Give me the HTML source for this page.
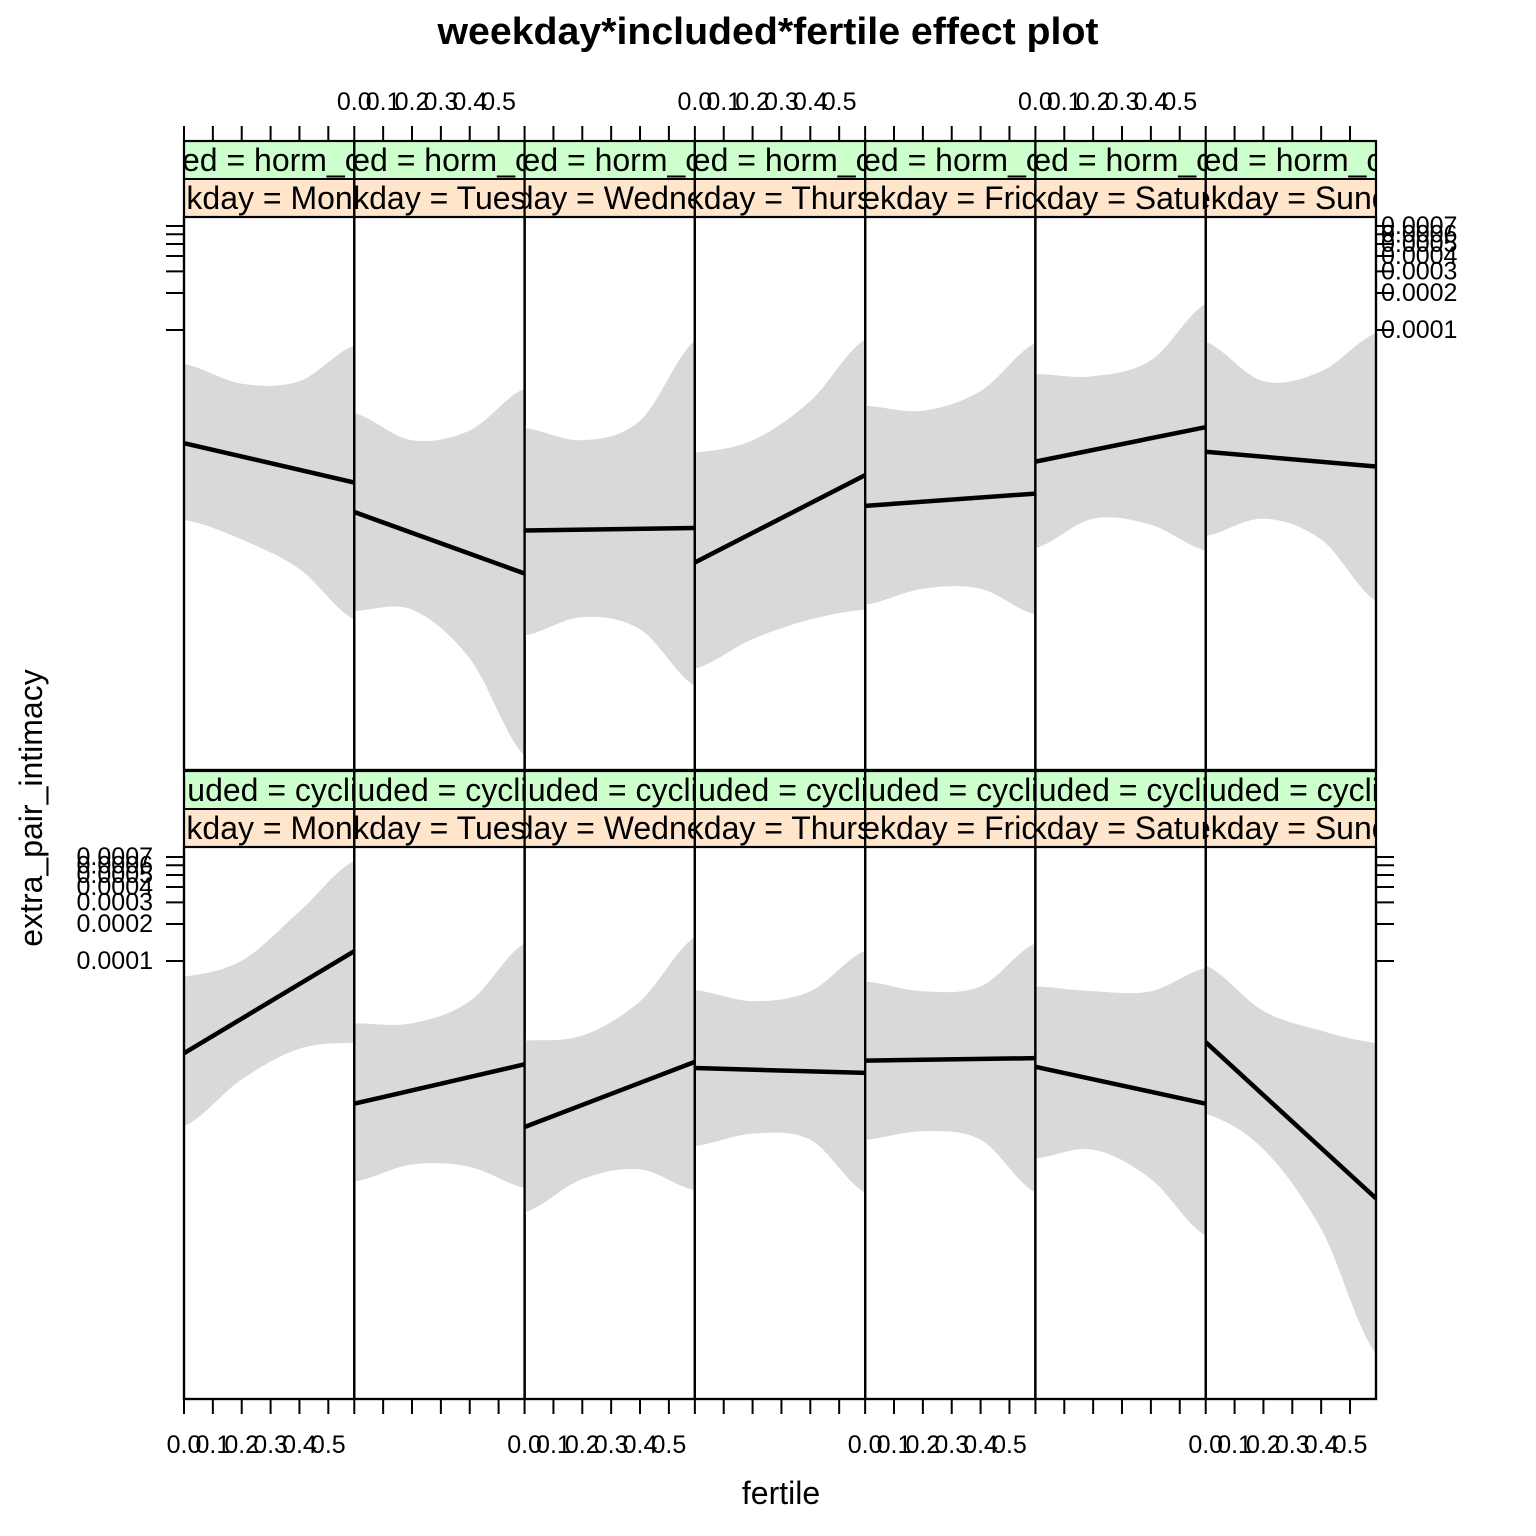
<!DOCTYPE html>
<html><head><meta charset="utf-8"><style>
html,body{margin:0;padding:0;background:#fff}
svg{display:block;font-family:"Liberation Sans",sans-serif}
</style></head><body>
<svg id="chart" width="1536" height="1536" viewBox="0 0 1536 1536" xmlns="http://www.w3.org/2000/svg">
<rect width="1536" height="1536" fill="#fff"/>
<text x="768" y="44" text-anchor="middle" font-size="38" font-weight="bold" textLength="661" lengthAdjust="spacingAndGlyphs">weekday*included*fertile effect plot</text>
<text x="781" y="1504" text-anchor="middle" font-size="32">fertile</text>
<text transform="translate(42,808) rotate(-90)" text-anchor="middle" font-size="32">extra_pair_intimacy</text>
<g id="plots"></g>
</svg>
<script>
const weekdays = ["Monday","Tuesday","Wednesday","Thursday","Friday","Saturday","Sunday"];
const includedLevels = ["horm_contra","cycling"];
const fertileGrid = [0, 0.2, 0.4, 0.59];
const fertileTicks = [0, 0.1, 0.2, 0.3, 0.4, 0.5];
const fertileTickLabels = ["0.0","0.1","0.2","0.3","0.4","0.5"];
const yTickValues = [0.0001,0.0002,0.0003,0.0004,0.0005,0.0006,0.0007];
const yTickLabels = ["0.0001","0.0002","0.0003","0.0004","0.0005","0.0006","0.0007"];
// log10 fitted values at fertile = 0 and 0.59
const fitHorm = [[-4.92,-5.24],[-5.48,-5.98],[-5.63,-5.61],[-5.89,-5.18],[-5.43,-5.33],[-5.07,-4.79],[-4.99,-5.11]];
const fitCyc = [[-4.75,-3.92],[-5.16,-4.84],[-5.35,-4.82],[-4.87,-4.91],[-4.81,-4.79],[-4.86,-5.16],[-4.66,-5.93]];
// log10 confidence bounds at fertileGrid
const upperHorm = [[-4.27,-4.43,-4.41,-4.12],[-4.67,-4.89,-4.81,-4.47],[-4.79,-4.89,-4.73,-4.08],[-4.99,-4.89,-4.57,-4.07],[-4.61,-4.65,-4.49,-4.10],[-4.35,-4.37,-4.24,-3.78],[-4.09,-4.41,-4.33,-4.02]];
const lowerHorm = [[-5.55,-5.71,-5.95,-6.36],[-6.29,-6.28,-6.68,-7.47],[-6.49,-6.34,-6.44,-6.90],[-6.76,-6.52,-6.36,-6.28],[-6.24,-6.11,-6.11,-6.32],[-5.78,-5.54,-5.59,-5.80],[-5.68,-5.54,-5.71,-6.21]];
const upperCyc = [[-4.12,-3.99,-3.59,-3.18],[-4.50,-4.50,-4.32,-3.85],[-4.64,-4.60,-4.32,-3.80],[-4.23,-4.32,-4.24,-3.91],[-4.16,-4.24,-4.20,-3.85],[-4.20,-4.24,-4.24,-4.05],[-4.03,-4.40,-4.56,-4.66]];
const lowerCyc = [[-5.35,-4.97,-4.72,-4.67],[-5.80,-5.66,-5.68,-5.85],[-6.05,-5.78,-5.70,-5.87],[-5.51,-5.41,-5.46,-5.89],[-5.46,-5.39,-5.46,-5.89],[-5.61,-5.54,-5.78,-6.24],[-5.25,-5.54,-6.19,-7.20]];

const NS="http://www.w3.org/2000/svg";
const root=document.getElementById('plots');
const X0=184, PW=(1376-184)/7, XMAX=0.59;
const rows=[{panelTop:217,panelBot:770,ref:330,strip1:141,fit:fitHorm,up:upperHorm,lo:lowerHorm,lev:includedLevels[0]},
            {panelTop:847,panelBot:1399,ref:961,strip1:771,fit:fitCyc,up:upperCyc,lo:lowerCyc,lev:includedLevels[1]}];
const PPD=123;
function el(t,a,p){const e=document.createElementNS(NS,t);for(const k in a)e.setAttribute(k,a[k]);(p||root).appendChild(e);return e;}
function xs(c,f){return X0+c*PW+f/XMAX*PW;}
function ys(r,l){return r.ref-(l+4)*PPD;}
function interp(arr,f){
  let i=0;while(i<fertileGrid.length-2&&f>fertileGrid[i+1])i++;
  const t=(f-fertileGrid[i])/(fertileGrid[i+1]-fertileGrid[i]);
  const p0=arr[Math.max(0,i-1)],p1=arr[i],p2=arr[i+1],p3=arr[Math.min(arr.length-1,i+2)];
  return 0.5*((2*p1)+(-p0+p2)*t+(2*p0-5*p1+4*p2-p3)*t*t+(-p0+3*p1-3*p2+p3)*t*t*t);
}
const defs=el('defs',{});
rows.forEach((r,ri)=>{
  weekdays.forEach((d,c)=>{
    const x=X0+c*PW;
    const cp=el('clipPath',{id:'cp'+ri+'_'+c},defs);
    el('rect',{x:x,y:r.strip1,width:PW,height:r.panelBot-r.strip1},cp);
    const g=el('g',{'clip-path':'url(#cp'+ri+'_'+c+')'});
    
    
    const N=40;let up=[],lo=[];
    for(let k=0;k<=N;k++){const f=XMAX*k/N;up.push(xs(c,f).toFixed(1)+','+ys(r,interp(r.up[c],f)).toFixed(1));lo.push(xs(c,f).toFixed(1)+','+ys(r,interp(r.lo[c],f)).toFixed(1));}
    const band=el('polygon',{points:up.concat(lo.reverse()).join(' '),fill:'#d9d9d9',stroke:'#fff','stroke-width':1.5},g);
    
    
    const ln=el('line',{x1:xs(c,0),y1:ys(r,r.fit[c][0]),x2:xs(c,XMAX),y2:ys(r,r.fit[c][1]),stroke:'#000','stroke-width':4.5},g);
    
    
    const s1=el('rect',{x:x,y:r.strip1,width:PW,height:38,fill:'#ccffcc',stroke:'#000','stroke-width':2},g);
    
    
    const t1=el('text',{x:x+82,y:r.strip1+30,'text-anchor':'middle','font-size':32},g);t1.textContent='included = '+r.lev;
    
    
    const s2=el('rect',{x:x,y:r.strip1+38,width:PW,height:38,fill:'#ffe5cc',stroke:'#000','stroke-width':2},g);
    
    
    const t2=el('text',{x:x+82,y:r.strip1+68,'text-anchor':'middle','font-size':32},g);t2.textContent='weekday = '+d;
    
    
    const bd=el('rect',{x:x,y:r.panelTop,width:PW,height:r.panelBot-r.panelTop,fill:'none',stroke:'#000','stroke-width':2.2});
    
    
    el('rect',{x:x,y:r.strip1,width:PW,height:r.panelBot-r.strip1,fill:'none',stroke:'#000','stroke-width':2.2});
  });
  yTickValues.forEach((v,i)=>{
    const y=ys(r,Math.log10(v));
    el('line',{x1:166,y1:y,x2:184,y2:y,stroke:'#000','stroke-width':2});
    el('line',{x1:1376,y1:y,x2:1394,y2:y,stroke:'#000','stroke-width':2});
    const t=ri===0?el('text',{x:1381,y:y+8,'font-size':25}):el('text',{x:153,y:y+8,'font-size':25,'text-anchor':'end'});
    t.textContent=yTickLabels[i];
    
    
  });
});
weekdays.forEach((d,c)=>{
  fertileTicks.forEach((f,i)=>{
    const x=xs(c,f);
    el('line',{x1:x,y1:126,x2:x,y2:141,stroke:'#000','stroke-width':2});
    el('line',{x1:x,y1:1399,x2:x,y2:1414,stroke:'#000','stroke-width':2});
    const t=el('text',{x:x,y:c%2===1?110:1453,'text-anchor':'middle','font-size':25});
    t.textContent=fertileTickLabels[i];
    
    
  });
});
</script>
</body></html>
